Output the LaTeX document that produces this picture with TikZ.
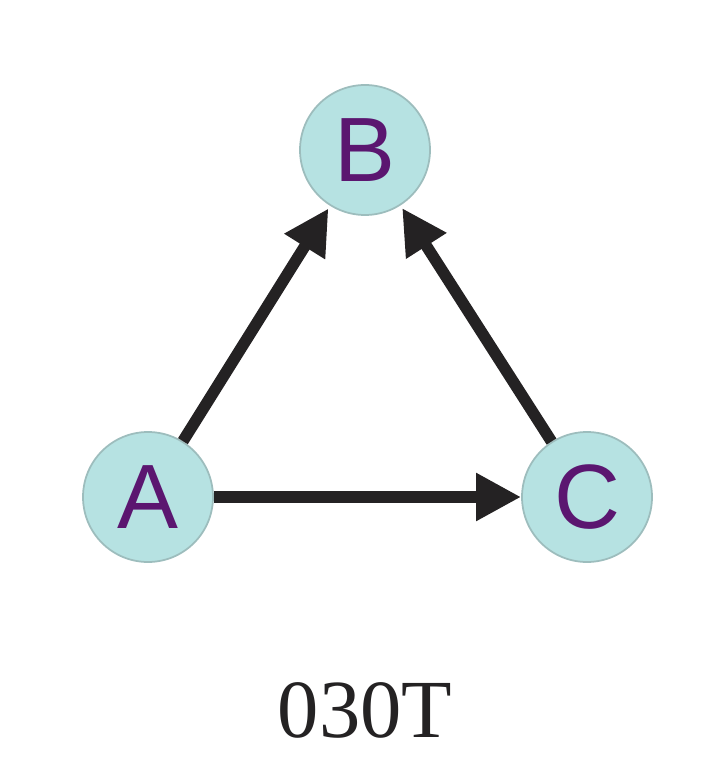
\documentclass[tikz,border=0pt]{standalone}
\usepackage{fontspec}
\setmainfont{Liberation Serif}
\setsansfont{Liberation Sans}
\usetikzlibrary{arrows.meta}

\definecolor{nodefill}{HTML}{B6E2E2}
\definecolor{nodeline}{HTML}{9DBDBD}
\definecolor{letter}{HTML}{5B1670}
\definecolor{edge}{HTML}{242223}

\tikzset{
  vertex/.style={draw=nodeline,line width=1pt,circle,fill=nodefill,
    minimum size=2.6cm,inner sep=0pt,
    font=\sffamily\fontsize{52}{52}\selectfont,text=letter},
  link/.style={line width=0.23cm,edge,-{Triangle[length=0.9cm,width=0.9cm]}}
}

\begin{document}
\begin{tikzpicture}
    \useasboundingbox (0,0) rectangle (14.5,-15.34);

    \node[vertex] (B) at (7.3,-3.0) {B};
    \node[vertex] (A) at (2.96,-9.94) {A};
    \node[vertex] (C) at (11.74,-9.94) {C};

    \draw [link,shorten >=0.06cm] (A) -- (B);
    \draw [link,shorten >=0.06cm] (C) -- (B);
    \draw [link] (A) -- (C);

    \node[font=\fontsize{47}{47}\selectfont,text=edge] (name) at (7.3,-14.2) {030T};
\end{tikzpicture}
\end{document}
